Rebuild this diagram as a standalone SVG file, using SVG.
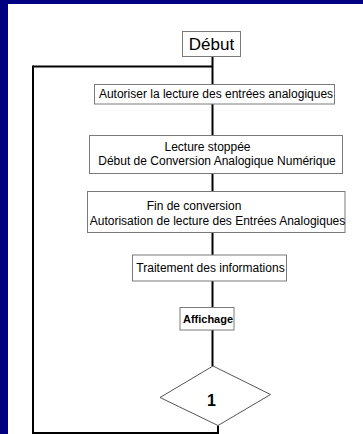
<svg xmlns="http://www.w3.org/2000/svg" width="363" height="434" viewBox="0 0 363 434">
<style>
.box{fill:#fff;stroke:#7a7a7a;stroke-width:1}
.t{font-family:"Liberation Sans",Arial,sans-serif;font-size:12px;fill:#000;text-anchor:middle}
.b{font-weight:bold}
.c{fill:none;stroke:#000;stroke-width:2}
</style>
<rect x="0" y="0" width="363" height="434" fill="#000080"/>
<rect x="8" y="4" width="355" height="430" fill="#fff"/>
<g id="connectors">
<path class="c" d="M212.5,57 V84"/>
<path class="c" d="M33,66.5 H212.5"/>
<path class="c" d="M212.5,104 V135.5"/>
<path class="c" d="M212.5,173.5 V191.5"/>
<path class="c" d="M212.5,232.5 V255"/>
<path class="c" d="M212.5,281 V307.5"/>
<path class="c" d="M212.5,330 V366"/>
<path class="c" d="M218,425.5 V433 H33 V65.5"/>
</g>
<g id="debut">
<rect class="box" x="182.5" y="31.5" width="58" height="25"/>
<text class="t" x="211.5" y="49.5" style="font-size:17px">Début</text>
</g>
<g id="autoriser">
<rect class="box" x="94.5" y="84.5" width="240" height="19.5"/>
<text class="t" x="216" y="98">Autoriser la lecture des entrées analogiques</text>
</g>
<g id="lecture">
<rect class="box" x="89.5" y="135.5" width="253" height="38"/>
<text class="t" x="207.5" y="151">Lecture stoppée</text>
<text class="t" x="217" y="165">Début de Conversion Analogique Numérique</text>
</g>
<g id="fin">
<rect class="box" x="87.5" y="191.5" width="257.5" height="41"/>
<text class="t" x="194" y="210">Fin de conversion</text>
<text class="t" x="217.5" y="224.5">Autorisation de lecture des Entrées Analogiques</text>
</g>
<g id="traitement">
<rect class="box" x="132.5" y="255" width="154" height="26"/>
<text class="t" x="210.5" y="271.5">Traitement des informations</text>
</g>
<g id="affichage">
<rect class="box" x="180" y="307.5" width="54" height="22.5"/>
<text class="t b" x="208" y="322.5" style="font-size:11px">Affichage</text>
</g>
<g id="decision">
<polygon points="213,366 270.5,394.5 218,425.5 160,397.5" fill="#fff" stroke="#555" stroke-width="1"/>
<text class="t b" x="211.5" y="405.5" style="font-size:16px">1</text>
</g>
</svg>
